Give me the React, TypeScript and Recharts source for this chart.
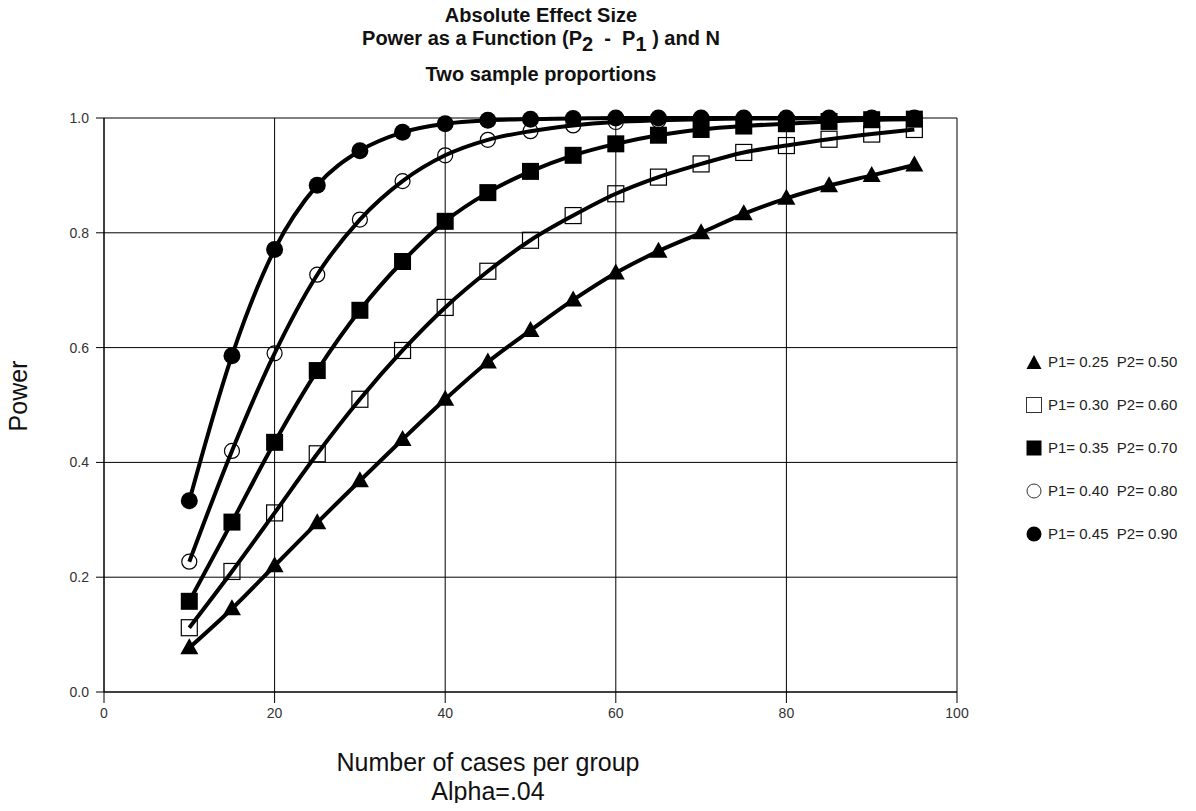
import React from "react";
import { LineChart, Line, XAxis, YAxis, CartesianGrid } from "recharts";

const N = [10, 15, 20, 25, 30, 35, 40, 45, 50, 55, 60, 65, 70, 75, 80, 85, 90, 95];
const powerA = [0.077, 0.145, 0.22, 0.295, 0.368, 0.44, 0.51, 0.575, 0.63, 0.683, 0.73, 0.768, 0.8, 0.833, 0.86, 0.882, 0.9, 0.918];
const powerB = [0.112, 0.21, 0.312, 0.415, 0.51, 0.595, 0.67, 0.733, 0.787, 0.83, 0.868, 0.897, 0.92, 0.94, 0.952, 0.963, 0.972, 0.98];
const powerC = [0.158, 0.296, 0.435, 0.56, 0.665, 0.75, 0.82, 0.87, 0.907, 0.935, 0.955, 0.97, 0.98, 0.986, 0.99, 0.994, 0.997, 0.998];
const powerD = [0.227, 0.42, 0.59, 0.727, 0.823, 0.89, 0.935, 0.962, 0.977, 0.987, 0.993, 0.996, 0.998, 0.999, 0.999, 1, 1, 1];
const powerE = [0.333, 0.586, 0.771, 0.883, 0.943, 0.975, 0.99, 0.996, 0.998, 0.999, 1, 1, 1, 1, 1, 1, 1, 1];

const seriesNames = [
  "P1= 0.25  P2= 0.50",
  "P1= 0.30  P2= 0.60",
  "P1= 0.35  P2= 0.70",
  "P1= 0.40  P2= 0.80",
  "P1= 0.45  P2= 0.90",
];
const seriesKeys = ["a", "b", "c", "d", "e"];
const seriesValues = [powerA, powerB, powerC, powerD, powerE];
const seriesShapes = ["triangle", "openSquare", "square", "openCircle", "circle"];

const xTicks = [0, 20, 40, 60, 80, 100];
const yTicks = [0, 0.2, 0.4, 0.6, 0.8, 1.0];

const data = N.map((n, i) => {
  const row: any = { n };
  seriesKeys.forEach((k, j) => (row[k] = seriesValues[j][i]));
  return row;
});

const FONT = "'Liberation Sans', Arial, sans-serif";

function Marker({ shape, cx, cy }: { shape: string; cx: number; cy: number }) {
  if (cx == null || cy == null) return null;
  switch (shape) {
    case "triangle":
      return <polygon points={`${cx},${cy - 9.5} ${cx - 9},${cy + 6.5} ${cx + 9},${cy + 6.5}`} fill="#000" />;
    case "openSquare":
      return <rect x={cx - 8} y={cy - 8} width={16} height={16} fill="none" stroke="#000" strokeWidth={1.2} />;
    case "square":
      return <rect x={cx - 8.5} y={cy - 8.5} width={17} height={17} fill="#000" />;
    case "openCircle":
      return <circle cx={cx} cy={cy} r={7.5} fill="none" stroke="#000" strokeWidth={1.2} />;
    default:
      return <circle cx={cx} cy={cy} r={8.5} fill="#000" />;
  }
}

function LegendIcon({ shape }: { shape: string }) {
  return (
    <svg width={16} height={16} style={{ display: "block" }}>
      {shape === "triangle" && <polygon points="8,1 0.5,15 15.5,15" fill="#000" />}
      {shape === "openSquare" && <rect x={0.5} y={0.5} width={15} height={15} fill="#fff" stroke="#333" strokeWidth={1} />}
      {shape === "square" && <rect x={0.5} y={0.5} width={15} height={15} fill="#000" />}
      {shape === "openCircle" && <circle cx={8} cy={8} r={7} fill="#fff" stroke="#333" strokeWidth={1} />}
      {shape === "circle" && <circle cx={8} cy={8} r={7.5} fill="#000" />}
    </svg>
  );
}

export default function App() {
  return (
    <div style={{ position: "relative", width: 1180, height: 795, fontFamily: FONT, background: "#fff" }}>
      <div style={{ position: "absolute", left: 0, width: 1066, top: -4, textAlign: "center", fontWeight: "bold", color: "#111", fontSize: 20, lineHeight: "23px" }}>
        <div>Absolute Effect Size</div>
        <div>
          Power as a Function (P<span style={{ position: "relative", top: 6 }}>2</span>&nbsp;&nbsp;-&nbsp;&nbsp;P
          <span style={{ position: "relative", top: 6 }}>1</span> ) and N
        </div>
        <div style={{ marginTop: 13 }}>Two sample proportions</div>
      </div>
      <div style={{ position: "absolute", left: -40, top: 373, width: 100, height: 30, lineHeight: "30px", transform: "rotate(-90deg)", fontSize: 25, textAlign: "center", color: "#111" }}>
        Power
      </div>
      <div style={{ position: "absolute", left: 0, width: 960, top: 740, textAlign: "center", fontSize: 25, lineHeight: "29px", color: "#111" }}>
        <div>Number of cases per group</div>
        <div>Alpha=.04</div>
      </div>
      <div style={{ position: "absolute", left: 1018, top: 332, fontFamily: FONT, fontSize: 15, color: "#222" }}>
        {seriesNames.map((name, i) => (
          <div key={name} style={{ display: "flex", alignItems: "center", height: 43 }}>
            <LegendIcon shape={seriesShapes[i]} />
            <span style={{ marginLeft: 6, whiteSpace: "pre" }}>{name}</span>
          </div>
        ))}
      </div>
      <LineChart
        width={1180}
        height={795}
        data={data}
        margin={{ top: 110, right: 231, bottom: 81, left: 56 }}
        style={{ position: "absolute", left: 0, top: 0 }}
      >
        <CartesianGrid stroke="#000" strokeWidth={1} horizontalValues={yTicks} verticalValues={xTicks} />
        <XAxis
          dataKey="n"
          type="number"
          domain={[0, 100]}
          ticks={xTicks}
          height={30}
          tickSize={11}
          tickMargin={5}
          axisLine={{ stroke: "#000" }}
          tickLine={{ stroke: "#000" }}
          tick={{ fill: "#333", fontSize: 14, fontFamily: FONT }}
          interval={0}
        />
        <YAxis
          type="number"
          domain={[0, 1]}
          ticks={yTicks}
          width={40}
          tickSize={8}
          tickMargin={7}
          axisLine={{ stroke: "#000" }}
          tickLine={{ stroke: "#000" }}
          tickFormatter={(v: number) => v.toFixed(1)}
          tick={{ fill: "#333", fontSize: 14, fontFamily: FONT }}
          interval={0}
        />
        {seriesKeys.map((k, i) => (
          <Line
            key={k}
            dataKey={k}
            name={seriesNames[i]}
            type="monotone"
            stroke="#000"
            strokeWidth={4}
            isAnimationActive={false}
            dot={(p: any) => <Marker key={`${k}-${p.index}`} shape={seriesShapes[i]} cx={p.cx} cy={p.cy} />}
            activeDot={false}
          />
        ))}
      </LineChart>
    </div>
  );
}
